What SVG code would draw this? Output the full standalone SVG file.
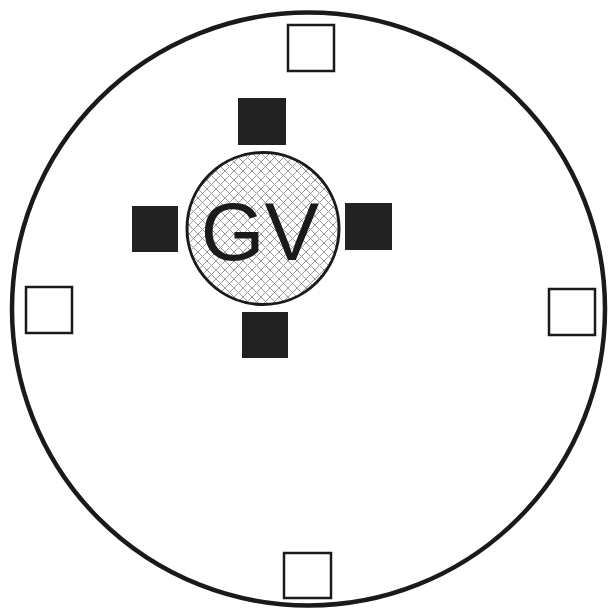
<svg xmlns="http://www.w3.org/2000/svg" width="612" height="612" viewBox="0 0 612 612">
<style>
.outer{fill:none;stroke:#1a1a1a;stroke-width:4.5}
.open{fill:#fff;stroke:#1a1a1a;stroke-width:2.5}
.solid{fill:#222;stroke:none}
.label{font-family:"Liberation Sans",Arial,sans-serif;font-size:82px;fill:#1a1a1a;text-anchor:middle}
</style>
<defs>
<pattern id="hatch" patternUnits="userSpaceOnUse" width="9" height="9">
<rect width="9" height="9" fill="#fff"/>
<path d="M0,0 L9,9 M-4.5,4.5 L4.5,13.5 M4.5,-4.5 L13.5,4.5 M9,0 L0,9 M-4.5,4.5 L4.5,-4.5 M4.5,13.5 L13.5,4.5" stroke="#9a9a9a" stroke-width="1" fill="none"/>
</pattern>
</defs>
<g id="boundary"><circle class="outer" cx="308.5" cy="309" r="296.5"/></g>
<g id="open-top"><rect class="open" x="288" y="25" width="46" height="46"/></g>
<g id="open-left"><rect class="open" x="26" y="287" width="46" height="46"/></g>
<g id="open-right"><rect class="open" x="549" y="289" width="46" height="46"/></g>
<g id="open-bottom"><rect class="open" x="284" y="553" width="47" height="45"/></g>
<g id="solid-top"><rect class="solid" x="238" y="98" width="48" height="47"/></g>
<g id="solid-left"><rect class="solid" x="132" y="206" width="46" height="46"/></g>
<g id="solid-right"><rect class="solid" x="345" y="203" width="47" height="47"/></g>
<g id="solid-bottom"><rect class="solid" x="242" y="312" width="46" height="46"/></g>
<g id="gv">
<circle cx="263" cy="228.5" r="76" fill="url(#hatch)" stroke="#1a1a1a" stroke-width="3"/>
<text class="label" x="260" y="260">GV</text>
</g>
<g id="connectors"/>
</svg>
